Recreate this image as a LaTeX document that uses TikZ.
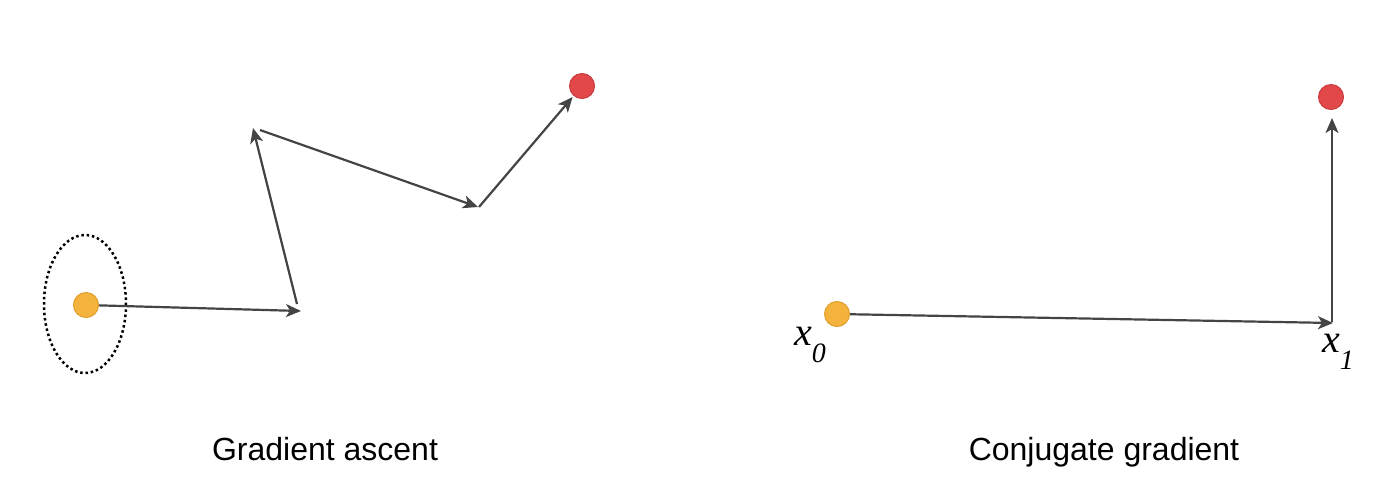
\documentclass[tikz,border=0pt]{standalone}
\usepackage{fontspec}
\setmainfont{Liberation Sans}
\newfontfamily\lserif{Liberation Serif}
\usetikzlibrary{arrows.meta}
\definecolor{dotyellow}{HTML}{F3B33D}
\definecolor{edgeyellow}{HTML}{E09E2C}
\definecolor{dotred}{HTML}{E2474A}
\definecolor{edgered}{HTML}{C93A3C}
\definecolor{arrowgray}{HTML}{444444}
\tikzset{
  ydot/.style={circle, fill=dotyellow, draw=edgeyellow, line width=1pt, minimum size=25pt, inner sep=0pt},
  rdot/.style={circle, fill=dotred, draw=edgered, line width=1pt, minimum size=25pt, inner sep=0pt},
  steparrow/.style={draw=arrowgray, line width=2.2pt, -{Stealth[length=15pt,width=13pt,inset=4pt]}},
  caption/.style={anchor=base, inner sep=0pt, font=\fontsize{32}{38}\selectfont},
  varlabel/.style={anchor=base west, inner sep=0pt, font=\lserif\itshape\fontsize{40}{40}\selectfont},
}
\newcommand{\subsc}[1]{\raisebox{-17pt}{\fontsize{28}{28}\selectfont #1}}
\begin{document}
\begin{tikzpicture}[x=1pt,y=-1pt]
\useasboundingbox (0,0) rectangle (1380,488);
% left panel
\node[ydot] (y0) at (86,305) {};
\draw[black, line width=2.5pt, dash pattern=on 2.5pt off 2.8pt] (85,304) ellipse [x radius=41, y radius=69];
\coordinate (a1) at (301,311);
\coordinate (b2) at (297,304);
\coordinate (a2) at (253,128);
\coordinate (b3) at (260,130);
\coordinate (a3) at (478,207);
\coordinate (b4) at (479,207);
\node[rdot] (r0) at (582,86) {};
\draw[steparrow] (y0) -- (a1);
\draw[steparrow] (b2) -- (a2);
\draw[steparrow] (b3) -- (a3);
\draw[steparrow, shorten >=1.5pt] (b4) -- (r0);
\node[caption] (cap0) at (325,460) {Gradient ascent};
% right panel
\node[ydot] (y1) at (837,314) {};
\node[rdot] (r1) at (1331,97) {};
\coordinate (c1) at (1333,323);
\coordinate (c1b) at (1332,322);
\coordinate (c2) at (1332,118);
\draw[steparrow] (y1) -- (c1);
\draw[steparrow] (c1b) -- (c2);
\node[varlabel] (x0) at (794,345) {x\subsc{0}};
\node[varlabel] (x1) at (1322,352) {x\subsc{1}};
\node[caption] (cap1) at (1104,460) {Conjugate gradient};
\end{tikzpicture}
\end{document}
